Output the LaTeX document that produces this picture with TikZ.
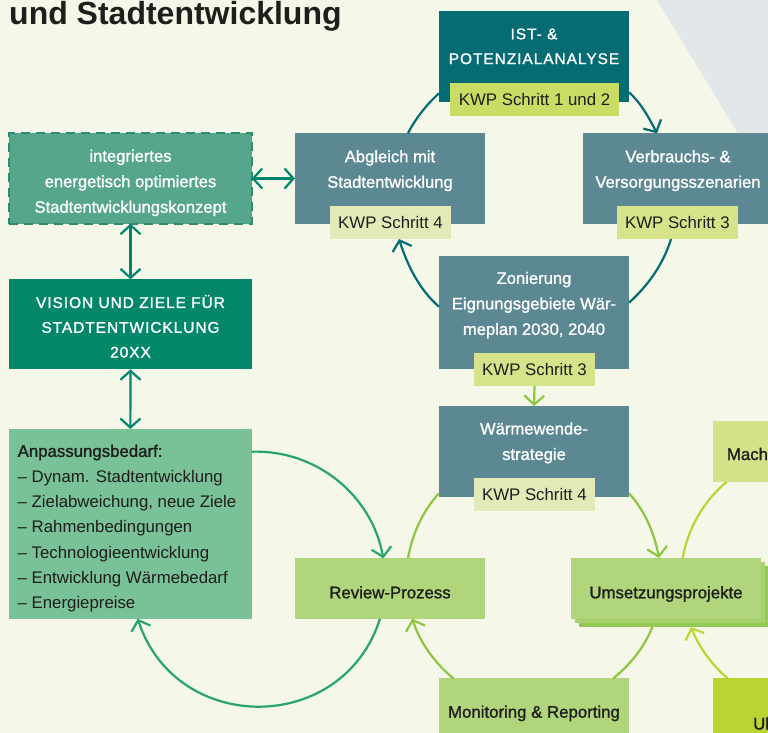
\documentclass[tikz,border=0pt]{standalone}
\usepackage{fontspec}
\setmainfont{Liberation Sans}
\newfontfamily\medfont[FakeBold=1.2]{Liberation Sans}
\newfontfamily\capsfont[FakeBold=1.2,LetterSpace=6]{Liberation Sans}
\usetikzlibrary{arrows.meta}

\definecolor{bg}{HTML}{F5F7E9}
\definecolor{grayarea}{HTML}{E2E7EA}
\definecolor{istteal}{HTML}{056C74}
\definecolor{teal2}{HTML}{5B8892}
\definecolor{tagA}{HTML}{C9DC63}
\definecolor{tagB}{HTML}{E2EBB8}
\definecolor{tagC}{HTML}{D6E38B}
\definecolor{integfill}{HTML}{56A58D}
\definecolor{integdash}{HTML}{2D8C6F}
\definecolor{visionfill}{HTML}{02876B}
\definecolor{anpfill}{HTML}{79C197}
\definecolor{lgreen}{HTML}{B1D57B}
\definecolor{midgreen}{HTML}{A6D16D}
\definecolor{backgreen}{HTML}{95C956}
\definecolor{machfill}{HTML}{D4E28A}
\definecolor{ulfill}{HTML}{BCD431}
\definecolor{dkarrow}{HTML}{00876B}
\definecolor{leftarc}{HTML}{28A56C}
\definecolor{botarc}{HTML}{8DC63F}
\definecolor{yelarc}{HTML}{BDD533}
\definecolor{txt}{HTML}{1E1E1C}

\tikzset{
  box/.style={rectangle, inner sep=0pt, outer sep=0pt, anchor=north west},
  tagbox/.style={rectangle, inner sep=0pt, outer sep=0pt, anchor=north west, text=txt,
    font=\fontsize{16.8}{20}\selectfont},
  wtext/.style={text=white, align=center, inner sep=0pt,
    font=\medfont\fontsize{16.6}{25.5}\selectfont,
    execute at begin node=\strut, execute at end node=\strut},
  ctext/.style={text=white, align=center, inner sep=0pt,
    font=\capsfont\fontsize{15.5}{24.8}\selectfont,
    execute at begin node=\strut, execute at end node=\strut},
  dlabel/.style={text=txt, inner sep=0pt, anchor=base,
    font=\medfont\fontsize{16.8}{20}\selectfont},
  tipV/.tip={Straight Barb[length=9pt,width=20pt]},
  linkbase/.style={line width=2.2pt, looseness=0.87},
  teallink/.style={linkbase, draw=istteal},
  botlink/.style={linkbase, draw=botarc},
  leftlink/.style={linkbase, draw=leftarc},
  yellink/.style={linkbase, draw=yelarc},
  dbl/.style={line width=2.2pt, draw=dkarrow, tipV-tipV},
}

\begin{document}
\begin{tikzpicture}[x=1pt,y=1pt]
\useasboundingbox (0,0) rectangle (768,-733);
\clip (0,0) rectangle (768,-733);
\fill[bg] (0,0) rectangle (768,-733);
\fill[grayarea] (657,0) -- (900,0) -- (900,-400) -- cycle;

% title
\node[anchor=base west, inner sep=0pt, text=txt,
  font=\fontsize{32}{32}\selectfont\bfseries] (title) at (9,-24.2) {und Stadtentwicklung};

% teal cycle boxes
\node[box, fill=istteal, minimum width=190, minimum height=90.7] (ist) at (439,-11) {};
\node[ctext] (istt) at (534,-50) {IST- \&\\POTENZIALANALYSE};
\node[tagbox, fill=tagA, minimum width=169, minimum height=33] (itag) at (450,-82.7) {KWP Schritt 1 und 2};

\node[box, fill=teal2, minimum width=189.7, minimum height=90.4] (abg) at (295,-133.3) {};
\node[wtext] (abgt) at (390,-172.8) {Abgleich mit\\Stadtentwicklung};
\node[tagbox, fill=tagB, minimum width=121, minimum height=33] (atag) at (330,-206) {KWP Schritt 4};

\node[box, fill=teal2, minimum width=190, minimum height=90.4] (verb) at (583,-133.3) {};
\node[wtext] (verbt) at (678,-172.8) {Verbrauchs- \&\\Versorgungsszenarien};
\node[tagbox, fill=tagC, minimum width=120.7, minimum height=33] (vtag) at (617,-206) {KWP Schritt 3};

\node[box, fill=teal2, minimum width=190, minimum height=113.3] (zon) at (439,-256) {};
\node[wtext] (zont) at (534,-307.2) {Zonierung\\Eignungsgebiete Wär-\\meplan 2030, 2040};
\node[tagbox, fill=tagC, minimum width=120.4, minimum height=33.3] (ztag) at (474.3,-352.7) {KWP Schritt 3};

\node[box, fill=teal2, minimum width=190, minimum height=90.7] (waerm) at (439,-406) {};
\node[wtext] (waermt) at (534,-445) {Wärmewende-\\strategie};
\node[tagbox, fill=tagB, minimum width=120.7, minimum height=32.4] (wtag) at (474,-478.3) {KWP Schritt 4};

% left column
\node[box, fill=integfill, draw=integdash, line width=2pt, dash pattern=on 9pt off 6pt,
  minimum width=242.4, minimum height=90.4] (integ) at (9.3,-133.3) {};
\node[wtext] (integt) at (130.5,-185) {integriertes\\energetisch optimiertes\\Stadtentwicklungskonzept};

\node[box, fill=visionfill, minimum width=242.4, minimum height=90] (vision) at (9.3,-279.3) {};
\node[ctext] (visiont) at (130.5,-330) {VISION UND ZIELE FÜR\\STADTENTWICKLUNG\\20XX};

\node[box, fill=anpfill, minimum width=242.7, minimum height=189.7] (anp) at (9,-429) {};
\node[text=txt, align=left, inner sep=0pt, anchor=west,
  font=\fontsize{16.8}{25.3}\selectfont,
  execute at begin node=\strut, execute at end node=\strut] (anpt) at (17.5,-530.5)
  {{\medfont Anpassungsbedarf:}\\– Dynam. Stadtentwicklung\\– Zielabweichung, neue Ziele\\– Rahmenbedingungen\\– Technologieentwicklung\\– Entwicklung Wärmebedarf\\– Energiepreise};

% green boxes
\node[box, fill=lgreen, minimum width=189.7, minimum height=60.4] (rev) at (295,-558.3) {};
\node[dlabel] (revt) at (390,-598.3) {Review-Prozess};

\node[box, fill=backgreen, minimum width=190, minimum height=61] (umsb) at (579,-566) {};
\node[box, fill=midgreen, minimum width=190, minimum height=60.5] (umsm) at (575,-562) {};
\node[box, fill=lgreen, minimum width=190, minimum height=60.7] (umsf) at (571,-558) {};
\node[dlabel] (umst) at (666,-598.3) {Umsetzungsprojekte};

\node[box, fill=lgreen, minimum width=190, minimum height=60] (mon) at (439,-678.3) {};
\node[dlabel] (mont) at (534,-717.7) {Monitoring \& Reporting};

\node[box, fill=machfill, minimum width=70, minimum height=60.4] (mach) at (712.7,-421.3) {};
\node[dlabel, anchor=base west] (macht) at (726.7,-460) {Mach};

\node[box, fill=ulfill, minimum width=70, minimum height=60] (ulbox) at (713,-678.3) {};
\node[dlabel, anchor=base west] (ult) at (753,-729.5) {Ul};

% double arrows
\draw[dbl] (integ.east) -- (abg.west);
\draw[dbl] (integ.south) -- (vision.north);
\draw[dbl] (vision.south) -- (anp.north);

% teal cycle
\draw[teallink, -tipV] ([yshift=9.4pt]ist.south east) to[out=-42,in=117.5] ([xshift=74pt]verb.north west);
\draw[teallink] ([xshift=113pt]abg.north west) to[out=63,in=222.7] ([yshift=8.4pt]ist.south west);
\draw[teallink] ([xshift=54pt]vtag.south west) to[out=-107,in=42] ([yshift=-46.7pt]zon.north east);
\draw[teallink, -tipV] ([yshift=-50.7pt]zon.north west) to[out=139.1,in=-72.3] ([xshift=69pt]atag.south west);

% zonierung -> waermewende
\draw[botlink, -tipV] (ztag.south) -- (waerm.north);

% bottom cycle
\draw[botlink, -tipV] ([yshift=3.4pt]waerm.south east) to[out=-47.6,in=100.6] ([xshift=88pt]umsf.north west);
\draw[botlink] ([xshift=113pt]rev.north west) to[out=80.1,in=227.6] ([yshift=3.4pt]waerm.south west);
\draw[botlink] ([xshift=73.3pt]umsb.south west) to[out=-111.5,in=38.9] ([xshift=-15.7pt]mon.north east);
\draw[botlink, -tipV] ([xshift=14.3pt]mon.north west) to[out=140.6,in=-72.1] ([xshift=117.3pt]rev.south west);

% left cycle
\draw[leftlink, -tipV, looseness=0.97] ([yshift=-22.7pt]anp.north east) to[out=2,in=100.3] ([xshift=88.3pt]rev.north west);
\draw[leftlink, -tipV, looseness=1.3] ([xshift=85pt]rev.south west) to[out=-107.6,in=-71.9] ([xshift=128.7pt]anp.south west);

% right cycle
\draw[yellink] ([xshift=14pt]mach.south west) to[out=220,in=80.2] ([xshift=111.7pt]umsf.north west);
\draw[yellink, -tipV] ([xshift=14.7pt]ulbox.north west) to[out=140.1,in=-68.2] ([xshift=112pt]umsb.south west);
\end{tikzpicture}
\end{document}
